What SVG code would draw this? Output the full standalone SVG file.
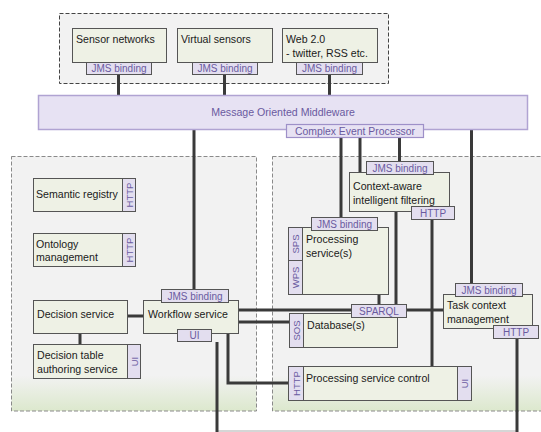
<svg xmlns="http://www.w3.org/2000/svg" width="541" height="432" viewBox="0 0 541 432">
<defs>
<linearGradient id="pg" x1="0" y1="0" x2="0" y2="1">
<stop offset="0" stop-color="#F2F2F2"/>
<stop offset="0.86" stop-color="#F2F2F2"/>
<stop offset="1" stop-color="#DCE8CD"/>
</linearGradient>
<style>
.panel{fill:url(#pg);stroke:#8A8A8A;stroke-width:1;stroke-dasharray:4 2}
.topbox{fill:#F2F2F2;stroke:#444;stroke-width:1;stroke-dasharray:4 2}
.box{fill:#EEF1E5;stroke:#555;stroke-width:1}
.tab{fill:#E3DEEF;stroke:#555;stroke-width:1}
.mom{fill:#E7E2F3;stroke:#B0A3D2;stroke-width:1.5}
.cep{fill:#E7E2F3;stroke:#9E90C8;stroke-width:1.2}
.t{font-family:"Liberation Sans",Arial,sans-serif;font-size:10.6px;fill:#1A1A1A}
.tt{font-family:"Liberation Sans",Arial,sans-serif;font-size:10px;fill:#6A5AA0;text-anchor:middle}
.tv{font-family:"Liberation Sans",Arial,sans-serif;font-size:9.5px;fill:#6A5AA0;text-anchor:middle}
.c{fill:none;stroke:#3A3A3A;stroke-width:3}
.thin{fill:none;stroke:#C8C8C8;stroke-width:1.5}
</style>
</defs>

<g id="panels">
<rect class="topbox" x="59.5" y="13.5" width="329" height="70"/>
<rect class="panel" x="11.5" y="156.5" width="245" height="254.5"/>
<rect class="panel" x="272.5" y="156.5" width="275" height="254.5"/>
</g>

<g id="connectors">
<line class="c" x1="118.5" y1="74" x2="118.5" y2="96"/>
<line class="c" x1="224.5" y1="74" x2="224.5" y2="96"/>
<line class="c" x1="329.5" y1="74" x2="329.5" y2="96"/>
<line class="c" x1="194" y1="130" x2="194" y2="290"/>
<line class="c" x1="341" y1="138" x2="341" y2="218"/>
<line class="c" x1="360" y1="138" x2="360" y2="172"/>
<line class="c" x1="399.5" y1="138" x2="399.5" y2="162"/>
<line class="c" x1="471.5" y1="130" x2="471.5" y2="284"/>
<line class="c" x1="396" y1="211" x2="396" y2="304"/>
<line class="c" x1="379" y1="294" x2="379" y2="304"/>
<line class="c" x1="432" y1="219" x2="432" y2="366"/>
<line class="c" x1="238" y1="310" x2="351" y2="310"/>
<line class="c" x1="406" y1="310" x2="443" y2="310"/>
<line class="c" x1="238" y1="322" x2="289" y2="322"/>
<line class="c" x1="127" y1="316" x2="143" y2="316"/>
<line class="c" x1="80" y1="333" x2="80" y2="344"/>
<polyline class="c" points="228,333 228,383 288,383"/>
<polyline class="thin" points="217,431 517,431"/>
<line class="c" x1="217" y1="342" x2="217" y2="432"/>
<line class="c" x1="517" y1="339" x2="517" y2="432"/>
</g>

<g id="sensor-networks">
<rect class="box" x="72.5" y="28.5" width="94" height="34"/>
<text class="t" x="76" y="43">Sensor networks</text>
<rect class="tab" x="86.5" y="62.5" width="65" height="12"/>
<text class="tt" x="119" y="72">JMS binding</text>
</g>

<g id="virtual-sensors">
<rect class="box" x="177.5" y="28.5" width="95" height="34"/>
<text class="t" x="181" y="43">Virtual sensors</text>
<rect class="tab" x="192.5" y="62.5" width="65" height="12"/>
<text class="tt" x="225" y="72">JMS binding</text>
</g>

<g id="web20">
<rect class="box" x="282.5" y="28.5" width="95" height="34"/>
<text class="t" x="286" y="43">Web 2.0</text>
<text class="t" x="286" y="57">- twitter, RSS etc.</text>
<rect class="tab" x="296.5" y="62.5" width="66" height="12"/>
<text class="tt" x="329.5" y="72">JMS binding</text>
</g>

<g id="mom">
<rect class="mom" x="38.5" y="95.5" width="489" height="34"/>
<text class="tt" x="283" y="116" style="font-size:10.6px">Message Oriented Middleware</text>
<rect class="cep" x="286.5" y="124.5" width="137" height="13"/>
<text class="tt" x="355" y="134.5" style="font-size:10.4px">Complex Event Processor</text>
</g>

<g id="semantic-registry">
<rect class="box" x="33.5" y="178.5" width="89" height="33"/>
<text class="t" x="36" y="198">Semantic registry</text>
<rect class="tab" x="122.5" y="178.5" width="13" height="33"/>
<text class="tv" transform="translate(129,195) rotate(-90)" y="3.5">HTTP</text>
</g>

<g id="ontology-management">
<rect class="box" x="33.5" y="233.5" width="89" height="33"/>
<text class="t" x="36" y="248">Ontology</text>
<text class="t" x="36" y="261">management</text>
<rect class="tab" x="122.5" y="233.5" width="13" height="33"/>
<text class="tv" transform="translate(129,250) rotate(-90)" y="3.5">HTTP</text>
</g>

<g id="decision-service">
<rect class="box" x="33.5" y="300.5" width="94" height="33"/>
<text class="t" x="37" y="318">Decision service</text>
</g>

<g id="decision-table">
<rect class="box" x="33.5" y="344.5" width="94" height="34"/>
<text class="t" x="37" y="359">Decision table</text>
<text class="t" x="37" y="373">authoring service</text>
<rect class="tab" x="127.5" y="344.5" width="13" height="34"/>
<text class="tv" transform="translate(134,361.5) rotate(-90)" y="3.5">UI</text>
</g>

<g id="workflow-service">
<rect class="box" x="143.5" y="300.5" width="95" height="33"/>
<text class="t" x="148" y="318">Workflow service</text>
<rect class="tab" x="161.5" y="289.5" width="67" height="13"/>
<text class="tt" x="195" y="299.5">JMS binding</text>
<rect class="tab" x="177.5" y="329.5" width="34" height="12"/>
<text class="tt" x="194.5" y="339">UI</text>
</g>

<g id="context-aware-filtering">
<rect class="box" x="349.5" y="172.5" width="100" height="39"/>
<text class="t" x="353" y="190">Context-aware</text>
<text class="t" x="353" y="204">intelligent filtering</text>
<rect class="tab" x="366.5" y="161.5" width="67" height="13"/>
<text class="tt" x="400" y="171.5">JMS binding</text>
<rect class="tab" x="411.5" y="206.5" width="43" height="13"/>
<text class="tt" x="433" y="216.5">HTTP</text>
</g>

<g id="processing-services">
<rect class="box" x="302.5" y="227.5" width="86" height="67"/>
<text class="t" x="306" y="243">Processing</text>
<text class="t" x="306" y="257">service(s)</text>
<rect class="tab" x="288.5" y="227.5" width="14" height="33"/>
<text class="tv" transform="translate(295.5,244) rotate(-90)" y="3.5">SPS</text>
<rect class="tab" x="288.5" y="260.5" width="14" height="34"/>
<text class="tv" transform="translate(295.5,277.5) rotate(-90)" y="3.5">WPS</text>
<rect class="tab" x="311.5" y="217.5" width="66" height="13"/>
<text class="tt" x="344.5" y="227.5">JMS binding</text>
</g>

<g id="databases">
<rect class="box" x="303.5" y="313.5" width="94" height="34"/>
<text class="t" x="307" y="329">Database(s)</text>
<rect class="tab" x="289.5" y="313.5" width="14" height="34"/>
<text class="tv" transform="translate(296.5,330.5) rotate(-90)" y="3.5">SOS</text>
<rect class="tab" x="351.5" y="304.5" width="55" height="13"/>
<text class="tt" x="379" y="314.5">SPARQL</text>
</g>

<g id="task-context-management">
<rect class="box" x="443.5" y="294.5" width="89" height="34"/>
<text class="t" x="447" y="309">Task context</text>
<text class="t" x="447" y="323">management</text>
<rect class="tab" x="455.5" y="283.5" width="67" height="13"/>
<text class="tt" x="489" y="293.5">JMS binding</text>
<rect class="tab" x="493.5" y="325.5" width="45" height="13"/>
<text class="tt" x="516" y="335.5">HTTP</text>
</g>

<g id="processing-service-control">
<rect class="box" x="303.5" y="366.5" width="154" height="34"/>
<text class="t" x="306" y="382">Processing service control</text>
<rect class="tab" x="288.5" y="366.5" width="15" height="34"/>
<text class="tv" transform="translate(296,383.5) rotate(-90)" y="3.5">HTTP</text>
<rect class="tab" x="457.5" y="366.5" width="14" height="34"/>
<text class="tv" transform="translate(464.5,383.5) rotate(-90)" y="3.5">UI</text>
</g>
</svg>
